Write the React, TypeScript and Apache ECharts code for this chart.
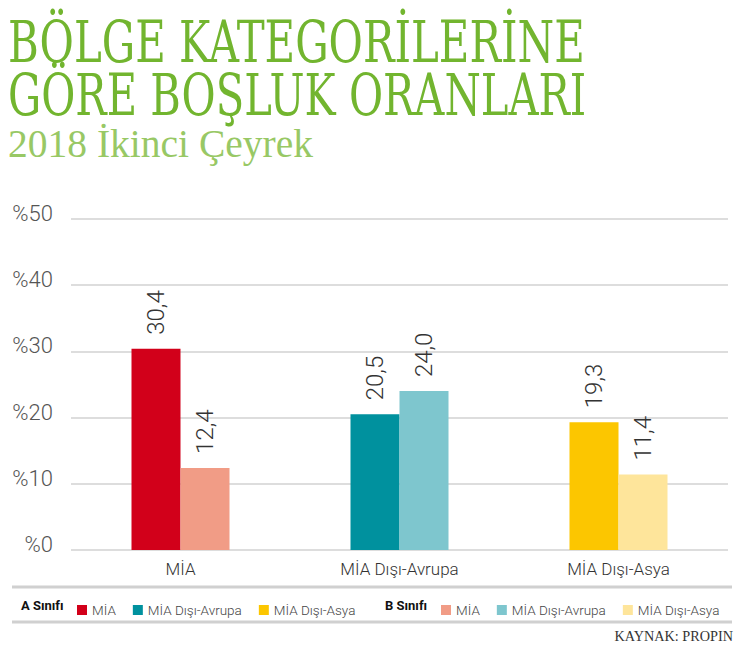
import React, { useEffect, useRef } from 'react';
import * as echarts from 'echarts';

// chart data
const categories = ['MİA', 'MİA Dışı-Avrupa', 'MİA Dışı-Asya'];
const classA = [30.4, 20.5, 19.3];
const classB = [12.4, 24.0, 11.4];
const colorsA = ['#d2001a', '#00919e', '#fcc600'];
const colorsB = ['#f19c86', '#7ec6ce', '#fee59b'];
const yTicks = [0, 10, 20, 30, 40, 50];

const title1 = 'BÖLGE KATEGORİLERİNE';
const title2 = 'GÖRE BOŞLUK ORANLARI';
const subtitle = '2018 İkinci Çeyrek';
const source = 'KAYNAK: PROPIN';

const green = '#72b52f';
const sans = 'Roboto, "Noto Sans", sans-serif';

const fmt = (v: number) => v.toFixed(1).replace('.', ',');

const App: React.FC = () => {
    const chartRef = useRef<HTMLDivElement>(null);

    useEffect(() => {
        if (!chartRef.current) return;
        const chart = echarts.init(chartRef.current, null, { renderer: 'svg' });

        // one series per (class, category); stacks keep A and B in two slots per category
        const makeSeries = (prefix: string, values: number[], colors: string[], stack: string) =>
            categories.map((cat, i) => ({
                name: prefix + '|' + cat,
                type: 'bar' as const,
                stack,
                barWidth: 49,
                barGap: '0%',
                data: categories.map((_, j) => (j === i ? values[i] : '-')),
                itemStyle: { color: colors[i] },
                label: {
                    show: true,
                    position: 'top' as const,
                    rotate: 90,
                    align: 'left' as const,
                    verticalAlign: 'middle' as const,
                    distance: 14,
                    fontFamily: sans,
                    fontWeight: 300,
                    fontSize: 24,
                    color: '#333',
                    formatter: (p: any) => fmt(p.value)
                }
            }));

        const seriesA = makeSeries('A', classA, colorsA, 'A');
        const seriesB = makeSeries('B', classB, colorsB, 'B');

        const legendBase = {
            top: 598,
            orient: 'horizontal' as const,
            icon: 'rect',
            itemWidth: 10,
            itemHeight: 10,
            itemGap: 17,
            selectedMode: false,
            textStyle: { fontFamily: sans, fontWeight: 300, fontSize: 13.5, color: '#444' },
            formatter: (name: string) => name.split('|')[1]
        };

        const option: echarts.EChartsOption = {
            animation: false,
            grid: { left: 71, right: 12, top: 219, bottom: 95 },
            xAxis: {
                type: 'category',
                data: categories,
                axisLine: { show: false },
                axisTick: { show: false },
                axisLabel: { fontFamily: sans, fontWeight: 300, fontSize: 17, color: '#333', margin: 10 }
            },
            yAxis: {
                type: 'value',
                min: yTicks[0],
                max: yTicks[yTicks.length - 1],
                interval: 10,
                axisLabel: {
                    fontFamily: sans,
                    fontWeight: 300,
                    fontSize: 22,
                    color: '#555',
                    margin: 18,
                    verticalAlign: 'bottom',
                    lineHeight: 11,
                    formatter: '%{value}'
                },
                splitLine: { lineStyle: { color: '#d2d2d2', width: 1.5 } }
            },
            legend: [
                { ...legendBase, left: 72, data: seriesA.map((s) => s.name) },
                { ...legendBase, left: 436, data: seriesB.map((s) => s.name) }
            ],
            graphic: [
                {
                    type: 'text', x: 8, y: 43, scaleX: 0.735,
                    style: { text: title1, fontFamily: '"DejaVu Serif", serif', fontSize: 57, fill: green, verticalAlign: 'middle' }
                },
                {
                    type: 'text', x: 8, y: 96, scaleX: 0.73,
                    style: { text: title2, fontFamily: '"DejaVu Serif", serif', fontSize: 57, fill: green, verticalAlign: 'middle' }
                },
                {
                    type: 'text', x: 8, y: 144,
                    style: { text: subtitle, fontFamily: '"Liberation Serif", serif', fontSize: 39.5, fill: '#98c865', verticalAlign: 'middle' }
                },
                { type: 'line', shape: { x1: 12, y1: 587, x2: 732, y2: 587 }, style: { stroke: '#d0d0d0', lineWidth: 3 } },
                { type: 'line', shape: { x1: 12, y1: 622, x2: 732, y2: 622 }, style: { stroke: '#d0d0d0', lineWidth: 3 } },
                {
                    type: 'text', x: 21, y: 605,
                    style: { text: 'A Sınıfı', fontFamily: sans, fontWeight: 'bold', fontSize: 13, fill: '#111', verticalAlign: 'middle' }
                },
                {
                    type: 'text', x: 385, y: 605,
                    style: { text: 'B Sınıfı', fontFamily: sans, fontWeight: 'bold', fontSize: 13, fill: '#111', verticalAlign: 'middle' }
                },
                {
                    type: 'text', x: 733, y: 636, scaleX: 0.92,
                    style: { text: source, fontFamily: '"Liberation Serif", serif', fontSize: 15.5, fill: '#333', align: 'right', verticalAlign: 'middle' }
                }
            ],
            series: [...seriesA, ...seriesB]
        };

        chart.setOption(option);

        return () => {
            chart.dispose();
        };
    }, []);

    return (
        <div
            ref={chartRef}
            style={{ position: 'absolute', left: 0, top: 0, width: '740px', height: '645px', background: '#fff' }}
        />
    );
};

export default App;
